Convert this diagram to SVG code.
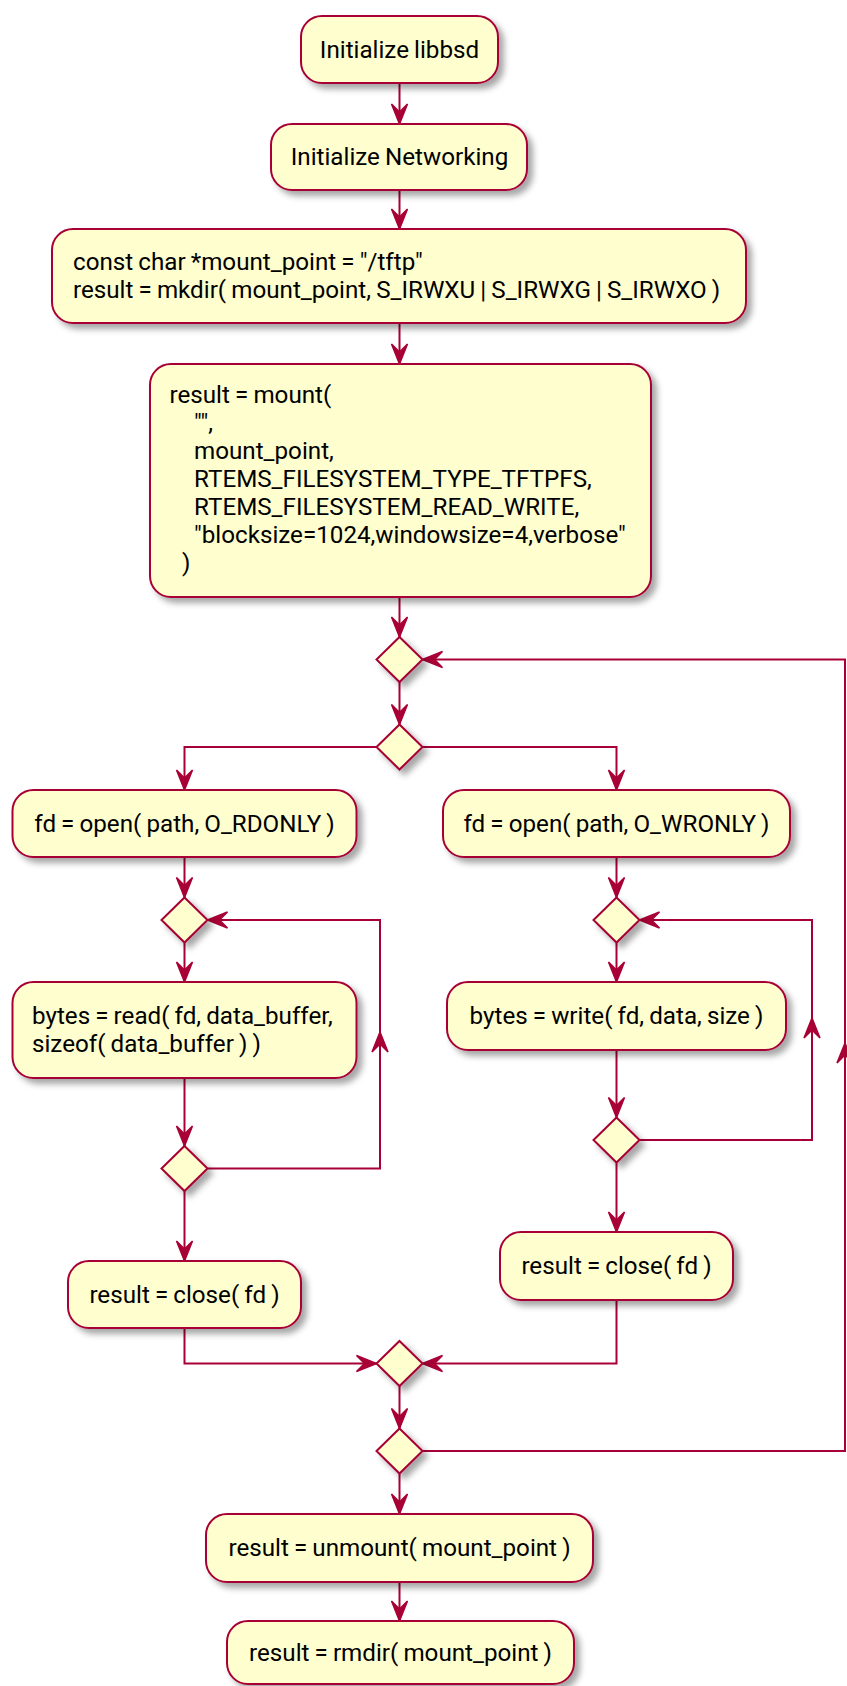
<svg xmlns="http://www.w3.org/2000/svg" xmlns:xlink="http://www.w3.org/1999/xlink" width="847" height="1686" viewBox="0 0 847 1686">
<style>
.box{fill:#FEFECE;stroke:#A80036;stroke-width:2;filter:url(#sh)}
.dia{fill:#FEFECE;stroke:#A80036;stroke-width:2;filter:url(#sh)}
.ln{fill:none;stroke:#A80036;stroke-width:2}
.ah{fill:#A80036;stroke:#A80036;stroke-width:1.5;stroke-linejoin:miter}
text{font-family:Roboto,"Liberation Sans",sans-serif;font-size:24.2px;word-spacing:-0.9px;fill:#000}
.c{text-anchor:middle}
</style>
<defs>
<filter id="sh" x="-20%" y="-20%" width="150%" height="160%">
<feGaussianBlur in="SourceAlpha" stdDeviation="3"/>
<feOffset dx="5" dy="5" result="b"/>
<feFlood flood-color="#000" flood-opacity="0.35"/>
<feComposite in2="b" operator="in"/>
<feMerge><feMergeNode/><feMergeNode in="SourceGraphic"/></feMerge>
</filter>
<path id="ah" d="M0,0 L-8,-20 L0,-12 L8,-20 Z"/>
</defs>
<rect width="847" height="1686" fill="#fff"/>

<g id="connectors">
<path class="ln" d="M399.5,83 V124"/>
<path class="ln" d="M399.5,190 V229"/>
<path class="ln" d="M399.5,323 V364"/>
<path class="ln" d="M399.5,597 V637"/>
<path class="ln" d="M399.5,682 V724.5"/>
<path class="ln" d="M376.5,747 H184.5 V790"/>
<path class="ln" d="M422.5,747 H616.5 V790"/>
<path class="ln" d="M184.5,857 V897.5"/>
<path class="ln" d="M184.5,942.5 V982"/>
<path class="ln" d="M184.5,1078 V1146"/>
<path class="ln" d="M207.5,1168.5 H380 V920 H207.5"/>
<path class="ln" d="M184.5,1191 V1261"/>
<path class="ln" d="M184.5,1328 V1363.5 H376.5"/>
<path class="ln" d="M616.5,857 V897.5"/>
<path class="ln" d="M616.5,942.5 V982"/>
<path class="ln" d="M616.5,1050 V1117.5"/>
<path class="ln" d="M639.5,1140 H812 V920 H639.5"/>
<path class="ln" d="M616.5,1162.5 V1232"/>
<path class="ln" d="M616.5,1300 V1363.5 H422.5"/>
<path class="ln" d="M399.5,1386 V1428.5"/>
<path class="ln" d="M422.5,1451 H845 V659.5 H422.5"/>
<path class="ln" d="M399.5,1473.5 V1514"/>
<path class="ln" d="M399.5,1582 V1621"/>
<use href="#ah" class="ah" transform="translate(399.5,124)"/>
<use href="#ah" class="ah" transform="translate(399.5,229)"/>
<use href="#ah" class="ah" transform="translate(399.5,364)"/>
<use href="#ah" class="ah" transform="translate(399.5,637)"/>
<use href="#ah" class="ah" transform="translate(399.5,724.5)"/>
<use href="#ah" class="ah" transform="translate(184.5,790)"/>
<use href="#ah" class="ah" transform="translate(616.5,790)"/>
<use href="#ah" class="ah" transform="translate(184.5,897.5)"/>
<use href="#ah" class="ah" transform="translate(184.5,982)"/>
<use href="#ah" class="ah" transform="translate(184.5,1146)"/>
<use href="#ah" class="ah" transform="translate(380,1032) rotate(180)"/>
<use href="#ah" class="ah" transform="translate(207.5,920) rotate(90)"/>
<use href="#ah" class="ah" transform="translate(184.5,1261)"/>
<use href="#ah" class="ah" transform="translate(376.5,1363.5) rotate(-90)"/>
<use href="#ah" class="ah" transform="translate(616.5,897.5)"/>
<use href="#ah" class="ah" transform="translate(616.5,982)"/>
<use href="#ah" class="ah" transform="translate(616.5,1117.5)"/>
<use href="#ah" class="ah" transform="translate(812,1018) rotate(180)"/>
<use href="#ah" class="ah" transform="translate(639.5,920) rotate(90)"/>
<use href="#ah" class="ah" transform="translate(616.5,1232)"/>
<use href="#ah" class="ah" transform="translate(422.5,1363.5) rotate(90)"/>
<use href="#ah" class="ah" transform="translate(399.5,1428.5)"/>
<use href="#ah" class="ah" transform="translate(845,1043) rotate(180)"/>
<use href="#ah" class="ah" transform="translate(422.5,659.5) rotate(90)"/>
<use href="#ah" class="ah" transform="translate(399.5,1514)"/>
<use href="#ah" class="ah" transform="translate(399.5,1621)"/>
</g>

<g id="init-libbsd">
<rect class="box" x="301" y="16" width="197" height="67" rx="21"/>
<text class="c" x="399.5" y="57.8">Initialize libbsd</text>
</g>
<g id="init-networking">
<rect class="box" x="271" y="124" width="256" height="66" rx="21"/>
<text class="c" x="399.5" y="165.3">Initialize Networking</text>
</g>
<g id="mkdir">
<rect class="box" x="52" y="229" width="694" height="94" rx="21"/>
<text x="73" y="269.5">const char *mount_point = "/tftp"</text>
<text x="73" y="297.5">result = mkdir( mount_point, S_IRWXU | S_IRWXG | S_IRWXO )</text>
</g>
<g id="mount">
<rect class="box" x="150" y="364" width="501" height="233" rx="21"/>
<text x="169.5" y="403">result = mount(</text>
<text x="194" y="431">"",</text>
<text x="194" y="459">mount_point,</text>
<text x="194" y="487">RTEMS_FILESYSTEM_TYPE_TFTPFS,</text>
<text x="194" y="515">RTEMS_FILESYSTEM_READ_WRITE,</text>
<text x="194" y="543">"blocksize=1024,windowsize=4,verbose"</text>
<text x="182" y="571">)</text>
</g>
<g id="loop-merge">
<polygon class="dia" points="399.5,637 422.5,659.5 399.5,682 376.5,659.5"/>
</g>
<g id="branch-split">
<polygon class="dia" points="399.5,724.5 422.5,747 399.5,769.5 376.5,747"/>
</g>
<g id="open-read">
<rect class="box" x="12.5" y="790" width="344" height="67" rx="21"/>
<text class="c" x="184.5" y="831.8">fd = open( path, O_RDONLY )</text>
</g>
<g id="open-write">
<rect class="box" x="443" y="790" width="347" height="67" rx="21"/>
<text class="c" x="616.5" y="831.8">fd = open( path, O_WRONLY )</text>
</g>
<g id="read-loop-start">
<polygon class="dia" points="184.5,897.5 207.5,920 184.5,942.5 161.5,920"/>
</g>
<g id="read">
<rect class="box" x="12.5" y="982" width="344" height="96" rx="21"/>
<text x="32" y="1024">bytes = read( fd, data_buffer,</text>
<text x="32" y="1052">sizeof( data_buffer ) )</text>
</g>
<g id="read-loop-end">
<polygon class="dia" points="184.5,1146 207.5,1168.5 184.5,1191 161.5,1168.5"/>
</g>
<g id="close-read">
<rect class="box" x="68" y="1261" width="233" height="67" rx="21"/>
<text class="c" x="184.5" y="1302.8">result = close( fd )</text>
</g>
<g id="write-loop-start">
<polygon class="dia" points="616.5,897.5 639.5,920 616.5,942.5 593.5,920"/>
</g>
<g id="write">
<rect class="box" x="447" y="982" width="339" height="68" rx="21"/>
<text class="c" x="616.5" y="1024.3">bytes = write( fd, data, size )</text>
</g>
<g id="write-loop-end">
<polygon class="dia" points="616.5,1117.5 639.5,1140 616.5,1162.5 593.5,1140"/>
</g>
<g id="close-write">
<rect class="box" x="500" y="1232" width="233" height="68" rx="21"/>
<text class="c" x="616.5" y="1274.3">result = close( fd )</text>
</g>
<g id="branch-join">
<polygon class="dia" points="399.5,1341 422.5,1363.5 399.5,1386 376.5,1363.5"/>
</g>
<g id="loop-end">
<polygon class="dia" points="399.5,1428.5 422.5,1451 399.5,1473.5 376.5,1451"/>
</g>
<g id="unmount">
<rect class="box" x="206" y="1514" width="387" height="68" rx="21"/>
<text class="c" x="399.5" y="1556.3">result = unmount( mount_point )</text>
</g>
<g id="rmdir">
<rect class="box" x="227" y="1621" width="347" height="63" rx="21"/>
<text class="c" x="400.5" y="1661">result = rmdir( mount_point )</text>
</g>
</svg>
